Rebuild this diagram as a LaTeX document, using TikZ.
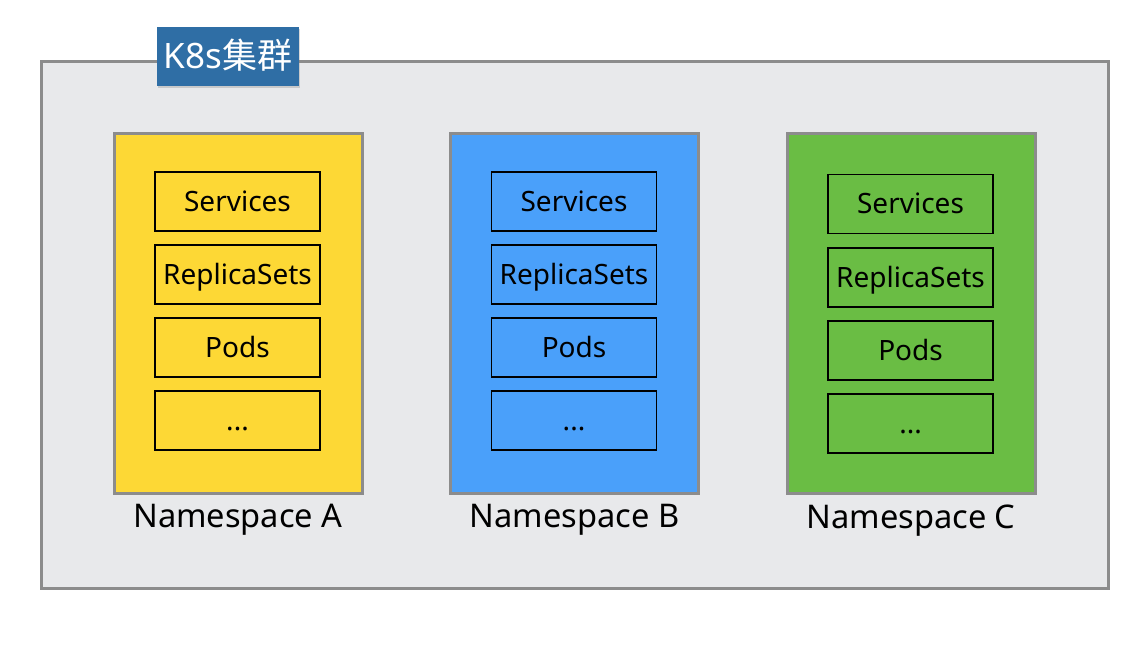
\documentclass[tikz,border=0pt]{standalone}
\usepackage{fontspec}
\setmainfont{Noto Sans}
\newfontfamily\cjk{Noto Sans CJK SC}
\usetikzlibrary{shadows}

\definecolor{clusterbg}{HTML}{E8E9EB}
\definecolor{pencil}{HTML}{8C8C8C}
\definecolor{titleblue}{HTML}{2F6EA5}
\definecolor{nsyellow}{HTML}{FDD835}
\definecolor{nsblue}{HTML}{4AA0FA}
\definecolor{nsgreen}{HTML}{6ABD44}

\tikzset{
  cluster/.style={draw=pencil, line width=1.5pt, fill=clusterbg, minimum width=533.5pt, minimum height=263.5pt},
  clustertitle/.style={fill=titleblue, text=white, font=\fontsize{17.5}{20}\selectfont, minimum width=71pt, minimum height=29.5pt, inner sep=0pt, text height=12.5pt, text depth=0pt, drop shadow={shadow xshift=0.6pt, shadow yshift=-0.8pt, opacity=0.3}},
  nsbox/.style={draw=pencil, line width=1.5pt, minimum width=124pt, minimum height=180pt},
  resbox/.style={draw=black, line width=0.9pt, minimum width=82.5pt, minimum height=29.5pt, inner sep=0pt, text height=10pt, text depth=0pt, font=\fontsize{14}{16}\selectfont},
  nslabel/.style={font=\fontsize{16.3}{19}\selectfont, inner sep=0pt, text height=11.6pt, text depth=0pt}
}

\begin{document}
\begin{tikzpicture}[x=0.5pt, y=-0.5pt]
\useasboundingbox (0,0) rectangle (1141,651);
% cluster
\node[cluster] (k8s) at (574.5,325.5) {};
\node[clustertitle] (k8stitle) at (228,56.5) {K8s{\cjk 集群}};
% namespace A
\node[nsbox, fill=nsyellow] (nsA) at (238,314) {};
\node[resbox] (svcA) at (237.5,201.5) {Services};
\node[resbox] (rsA) at (237.5,274.5) {ReplicaSets};
\node[resbox] (podA) at (237.5,347.5) {Pods};
\node[resbox] (moreA) at (237.5,420.5) {...};
\node[nslabel] (labA) at (238,516) {Namespace A};
% namespace B
\node[nsbox, fill=nsblue] (nsB) at (574.5,314) {};
\node[resbox] (svcB) at (574,201.5) {Services};
\node[resbox] (rsB) at (574,274.5) {ReplicaSets};
\node[resbox] (podB) at (574,347.5) {Pods};
\node[resbox] (moreB) at (574,420.5) {...};
\node[nslabel] (labB) at (574.5,516) {Namespace B};
% namespace C
\node[nsbox, fill=nsgreen] (nsC) at (911,314) {};
\node[resbox] (svcC) at (910.5,204) {Services};
\node[resbox] (rsC) at (910.5,277.5) {ReplicaSets};
\node[resbox] (podC) at (910.5,350.5) {Pods};
\node[resbox] (moreC) at (910.5,423.5) {...};
\node[nslabel] (labC) at (911,517) {Namespace C};
\end{tikzpicture}
\end{document}
